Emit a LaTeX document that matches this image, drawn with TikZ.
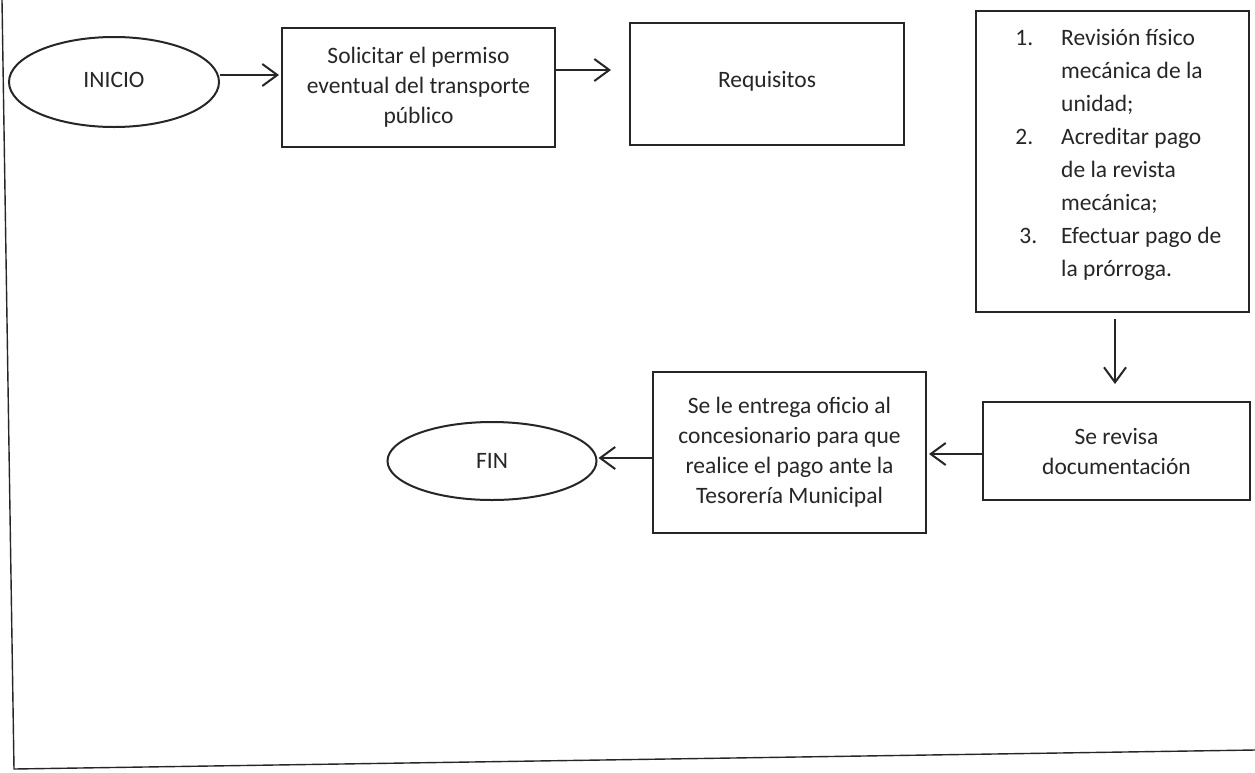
\documentclass[tikz,border=0pt]{standalone}
\usepackage{fontspec}
\setmainfont{Carlito}
\usetikzlibrary{shapes.geometric,arrows.meta}
\definecolor{ink}{HTML}{262626}
\begin{document}
\begin{tikzpicture}[x=1pt,y=-1pt,
  every node/.style={text=ink,font=\fontsize{23.5}{30}\selectfont},
  boxnode/.style={draw=ink,line width=2pt,rectangle,inner sep=0pt,align=center},
  ovalnode/.style={draw=ink,line width=2pt,ellipse,inner sep=0pt,align=center},
  arr/.style={draw=ink,line width=2pt,-{Straight Barb[length=15pt,width=22pt,line width=2pt]}}]
\useasboundingbox (0,0) rectangle (1255,772);
\fill[white] (0,0) rectangle (1255,772);
% frame
\draw[ink,line width=1.4pt] (2,0) -- (14,769) -- (1255,750);
% nodes
\node[ovalnode,minimum width=210pt,minimum height=90pt] (ini) at (114,82) {\raisebox{5pt}{INICIO}};
\node[boxnode,minimum width=273pt,minimum height=119pt] (s1) at (418.5,87.5)
  {Solicitar el permiso\\eventual del transporte\\público};
\node[boxnode,minimum width=274pt,minimum height=122pt] (req) at (767,84) {\raisebox{9pt}{Requisitos}};
\node[boxnode,minimum width=273pt,minimum height=301pt] (lst) at (1112.5,161.5) {};
\node[anchor=base west,inner sep=0pt,align=left,font=\fontsize{23.5}{33}\selectfont] (lsttxt) at (1061,276)
  {\llap{1.\hspace{28pt}}Revisión físico\\mecánica de la\\unidad;\\\llap{2.\hspace{28pt}}Acreditar pago\\de la revista\\mecánica;\\\llap{3.\hspace{24pt}}Efectuar pago de\\la prórroga.};
\node[boxnode,minimum width=267pt,minimum height=98pt] (rev) at (1116.5,451)
  {\raisebox{6pt}{\parbox{260pt}{\centering Se revisa\\documentación}}};
\node[boxnode,minimum width=273pt,minimum height=161pt] (ent) at (789.5,452.5)
  {\raisebox{4pt}{\parbox{268pt}{\centering Se le entrega oficio al\\concesionario para que\\realice el pago ante la\\Tesorería Municipal}}};
\node[ovalnode,minimum width=209pt,minimum height=78pt] (fin) at (492,461) {FIN};
% connectors
\draw[arr,shorten >=2pt] ([yshift=7pt]ini.east) -- ([yshift=7pt]ini.east -| s1.west);
\draw[arr,shorten >=18pt] ([yshift=17.5pt]s1.east) -- ([yshift=17.5pt]s1.east -| req.west);
\draw[arr,shorten <=6pt,shorten >=17pt] ([xshift=2.5pt]lst.south) -- ([xshift=2.5pt]lst.south |- rev.north);
\draw[arr,shorten >=2pt] ([yshift=-3pt]rev.west) -- ([yshift=-3pt]rev.west -| ent.east);
\draw[arr,shorten >=1pt] ([yshift=-5.5pt]ent.west) -- ([yshift=-5.5pt]ent.west -| fin.east);
\end{tikzpicture}
\end{document}
